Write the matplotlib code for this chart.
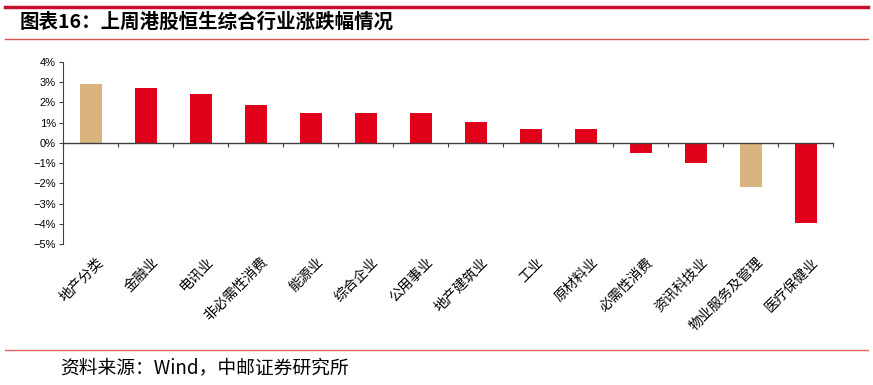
import matplotlib
matplotlib.use("Agg")
import matplotlib.pyplot as plt
from matplotlib.lines import Line2D
from matplotlib.ticker import FuncFormatter, FixedLocator

plt.rcParams['font.family'] = ['Noto Sans CJK SC', 'DejaVu Sans']

categories = ['地产分类', '金融业', '电讯业', '非必需性消费', '能源业', '综合企业', '公用事业',
              '地产建筑业', '工业', '原材料业', '必需性消费', '资讯科技业', '物业服务及管理', '医疗保健业']
values = [2.93, 2.72, 2.44, 1.86, 1.48, 1.48, 1.47, 1.04, 0.70, 0.67, -0.48, -0.97, -2.16, -3.97]
highlight = ['地产分类', '物业服务及管理']
yticks = [4, 3, 2, 1, 0, -1, -2, -3, -4, -5]

RED = '#E1001A'
TAN = '#D9B47E'

fig = plt.figure(figsize=(8.73, 3.85), dpi=100)
ax = fig.add_axes([63/873, 1-244/385, (833-63)/873, (244-62)/385])

x = list(range(len(categories)))
colors = [TAN if c in highlight else RED for c in categories]
ax.bar(x, values, width=0.4, color=colors, edgecolor='none', zorder=2)

ax.set_xlim(-0.5, len(categories)-0.5)
ax.set_ylim(-5, 4)
ax.set_yticks(yticks)
ax.yaxis.set_major_formatter(FuncFormatter(lambda v, p: f"{int(v)}%".replace('-', '\u2212')))
for lab in ax.get_yticklabels():
    lab.set_fontfamily(['Liberation Sans', 'DejaVu Sans'])
    lab.set_fontsize(8)
ax.tick_params(axis='y', direction='out', length=3, width=0.8, color='#404040', pad=2, labelcolor='black')

ax.spines['top'].set_visible(False)
ax.spines['right'].set_visible(False)
ax.spines['left'].set_color('#404040')
ax.spines['left'].set_linewidth(0.8)
ax.spines['bottom'].set_position(('data', 0))
ax.spines['bottom'].set_color('#404040')
ax.spines['bottom'].set_linewidth(1.0)

ax.xaxis.set_major_locator(FixedLocator([i + 0.5 for i in range(-1, len(categories))]))
ax.tick_params(axis='x', direction='out', length=3, width=0.8, color='#404040', labelbottom=False)

for i, c in enumerate(categories):
    ax.text(i + 0.1, -5.55, c, rotation=45, rotation_mode='anchor', ha='right', va='top',
            fontsize=10, color='black')

# decorative lines and texts
fig.add_artist(Line2D([5/873, 868/873], [1-7/385, 1-7/385], color='#C8102E', linewidth=2.5))
fig.add_artist(Line2D([5/873, 868/873], [1-39/385, 1-39/385], color='#D9534F', linewidth=1.0))
fig.add_artist(Line2D([5/873, 868/873], [1-350/385, 1-350/385], color='#E06666', linewidth=1.0))

fig.text(20/873, 1-22/385, '图表16：上周港股恒生综合行业涨跌幅情况', fontsize=14, fontweight='bold',
         ha='left', va='center', color='black')
fig.text(60/873, 1-368/385, '资料来源：Wind，中邮证券研究所', fontsize=13.5, ha='left', va='center', color='black')

fig.savefig('out.png', dpi=100, facecolor='white')
